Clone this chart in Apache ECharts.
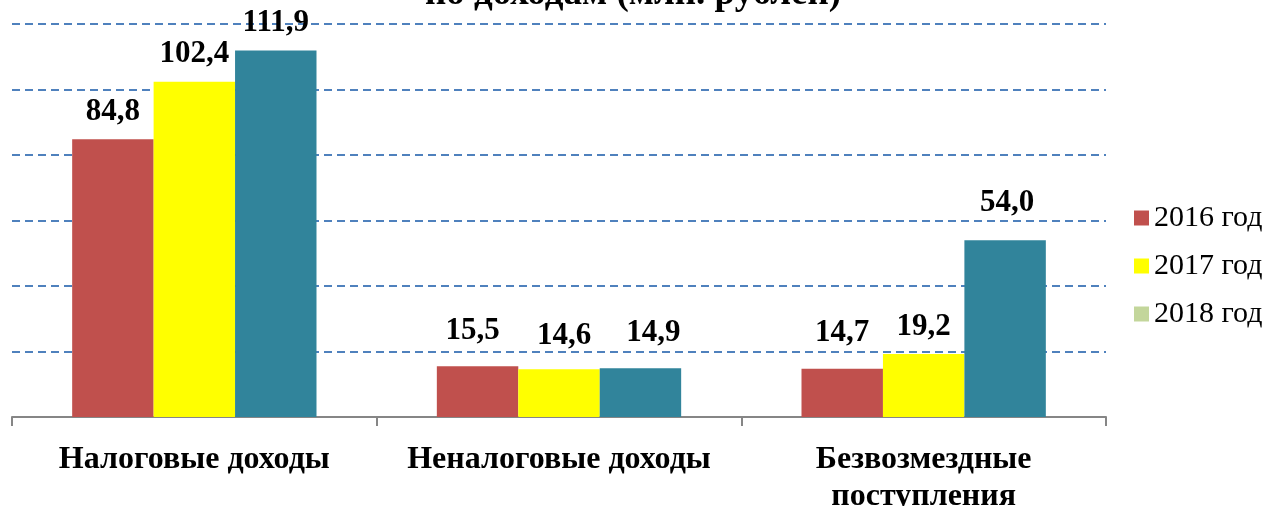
<!DOCTYPE html>
<html>
<head>
<meta charset="utf-8">
<script src="https://cdn.jsdelivr.net/npm/echarts@6/dist/echarts.min.js"></script>
<style>
html,body{margin:0;padding:0;background:#fff;}
#chart{width:1266px;height:506px;}
</style>
</head>
<body>
<div id="chart"></div>
<script>
var categories = ['Налоговые доходы', 'Неналоговые доходы', 'Безвозмездные\nпоступления'];
var seriesNames = ['2016 год', '2017 год', '2018 год'];
var values2016 = [84.8, 15.5, 14.7];
var values2017 = [102.4, 14.6, 19.2];
var values2018 = [111.9, 14.9, 54.0];
var yMin = 0, yMax = 120, yInterval = 20;
var titleText = 'по доходам (млн. рублей)';

var FONT = '"Liberation Serif", "DejaVu Serif", serif';
var colors = ['#C0504D', '#FFFF00', '#31849B'];
var legendColors = ['#C0504D', '#FFFF00', '#C3D69B'];
// hand-placed label nudges (style only), per series then per category
var labelOffsets = [
  [[0, 0], [-5, -8], [0, -8]],
  [[0, 0], [5, -6], [0, 0]],
  [[0, 0], [13, -8], [2, -10]]
];
var allValues = [values2016, values2017, values2018];

var chart = echarts.init(document.getElementById('chart'), null, {renderer: 'canvas'});

var series = seriesNames.map(function (name, i) {
  return {
    name: name,
    type: 'bar',
    data: allValues[i].map(function (v, j) {
      return {value: v, label: {offset: labelOffsets[i][j]}};
    }),
    barGap: 0,
    barCategoryGap: '33%',
    itemStyle: {color: colors[i]},
    label: {
      show: true,
      position: 'top',
      distance: 12,
      color: '#000',
      fontFamily: FONT,
      fontWeight: 'bold',
      fontSize: 31,
      formatter: function (p) { return p.value.toFixed(1).replace('.', ','); }
    }
  };
});

chart.setOption({
  animation: false,
  backgroundColor: '#fff',
  title: {
    text: titleText,
    left: 'center',
    top: -24,
    padding: 0,
    textStyle: {fontFamily: FONT, fontWeight: 'bold', fontSize: 37, color: '#000'}
  },
  legend: {
    orient: 'vertical',
    left: 1134,
    top: 203,
    padding: 0,
    itemWidth: 15,
    itemHeight: 15,
    itemGap: 18,
    icon: 'rect',
    textStyle: {fontFamily: FONT, fontSize: 30, color: '#000'},
    data: seriesNames.map(function (n, i) {
      return {name: n, itemStyle: {color: legendColors[i]}};
    })
  },
  grid: {left: 12, right: 160, top: 24, bottom: 89, containLabel: false, outerBoundsMode: 'none'},
  xAxis: {
    type: 'category',
    data: categories,
    axisLine: {lineStyle: {color: '#868686', width: 2}},
    axisTick: {show: true, length: 9, lineStyle: {color: '#868686', width: 2}},
    axisLabel: {
      margin: 24,
      color: '#000',
      fontFamily: FONT,
      fontWeight: 'bold',
      fontSize: 32,
      lineHeight: 37,
      interval: 0
    }
  },
  yAxis: {
    type: 'value',
    min: yMin,
    max: yMax,
    interval: yInterval,
    axisLine: {show: false},
    axisTick: {show: false},
    axisLabel: {show: false},
    splitLine: {lineStyle: {color: '#4F81BD', width: 2, type: [8, 5]}}
  },
  series: series
});
</script>
</body>
</html>
